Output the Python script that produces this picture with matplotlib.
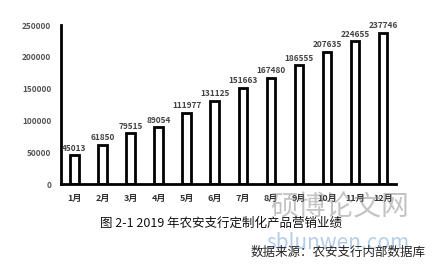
import numpy as np
import matplotlib.pyplot as plt

plt.rcParams['font.family'] = ['Noto Sans CJK SC', 'DejaVu Sans']

# 月份与销售数据
yue = ['1月', '2月', '3月', '4月', '5月', '6月', '7月', '8月', '9月', '10月', '11月', '12月']
yeji = [45013, 61850, 79515, 89054, 111977, 131125, 151663, 167480, 186555, 207635, 224655, 237746]
yticks = [0, 50000, 100000, 150000, 200000, 250000]

fig = plt.figure(figsize=(4.41, 2.64), dpi=100)
ax = fig.add_axes([0.138, 0.303, 0.76, 0.602])

x = np.arange(len(yue))
ax.bar(x, yeji, width=0.3, color='white', edgecolor='black', linewidth=2)

for i, v in enumerate(yeji):
    ax.text(i, v + 4000, str(v), ha='center', va='bottom', fontsize=6,
            fontweight='bold', color='#444444')

ax.set_xlim(-0.48, 11.46)
ax.set_ylim(0, 250000)
ax.set_xticks(x)
ax.set_xticklabels(yue, fontsize=6.5, fontweight='bold', color='#333333')
ax.set_yticks(yticks)
ax.set_yticklabels([str(t) for t in yticks], fontsize=6, fontweight='bold', color='#555555')
ax.tick_params(axis='both', length=0, pad=7)

for s in ['top', 'right']:
    ax.spines[s].set_visible(False)
ax.spines['left'].set_linewidth(2)
ax.spines['bottom'].set_linewidth(2)

# 水印
fig.text(0.77, 0.215, '硕博论文网', fontsize=20, color='#888888', alpha=0.5,
         ha='center', va='center')
fig.text(0.767, 0.08, 'sblunwen.com', fontsize=15, color='#7aa6d6', alpha=0.55,
         ha='center', va='center')

fig.text(0.5, 0.155, '图 2-1 2019 年农安支行定制化产品营销业绩', fontsize=9,
         ha='center', va='center', color='#111111')
fig.text(0.965, 0.045, '数据来源：农安支行内部数据库', fontsize=9,
         ha='right', va='center', color='#222222')

plt.savefig('out.png', dpi=100)
